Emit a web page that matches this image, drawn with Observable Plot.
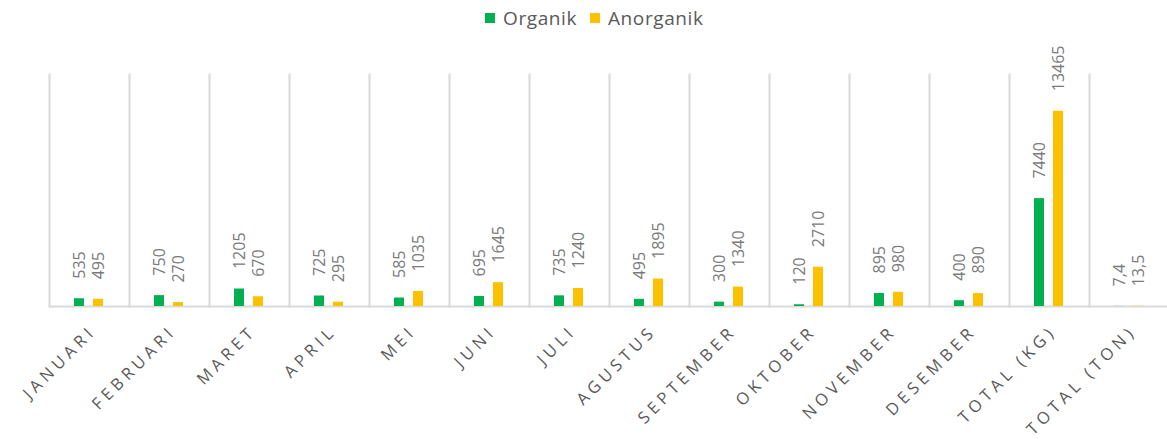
<!DOCTYPE html>
<html>
<head>
<meta charset="utf-8">
<script src="https://cdn.jsdelivr.net/npm/d3@7"></script>
<script src="https://cdn.jsdelivr.net/npm/@observablehq/plot@0.6"></script>
<style>
  html, body { margin: 0; padding: 0; background: #fff; overflow: hidden; }
  #legend { height: 36px; position: relative; font-family: "Open Sans", sans-serif; font-size: 19px; color: #595959; letter-spacing: 0.6px; }
  #legend .item { position: absolute; top: 5px; display: flex; align-items: center; }
  #legend .sw { width: 10px; height: 10px; margin-right: 8px; }
  g[aria-label="fx-axis tick label"] text { letter-spacing: 4.4px; }
  g[aria-label="datalabel"] text { letter-spacing: 2.2px; }
</style>
</head>
<body>
<div id="legend"></div>
<div id="chart"></div>
<script>
const months = ["JANUARI","FEBRUARI","MARET","APRIL","MEI","JUNI","JULI","AGUSTUS","SEPTEMBER","OKTOBER","NOVEMBER","DESEMBER","TOTAL (KG)","TOTAL (TON)"];
const seriesNames = ["Organik","Anorganik"];
const seriesColors = ["#00B050","#FFC000"];
const organik = [535,750,1205,725,585,695,735,495,300,120,895,400,7440,7.4];
const anorganik = [495,270,670,295,1035,1645,1240,1895,1340,2710,980,890,13465,13.5];

const data = [];
months.forEach((m, i) => {
  data.push({month: m, series: "Organik", value: organik[i]});
  data.push({month: m, series: "Anorganik", value: anorganik[i]});
});
const fmt = v => String(v).replace(".", ",");

// legend
const legend = document.getElementById("legend");
const legendLeft = [485, 590];
seriesNames.forEach((s, i) => {
  const it = document.createElement("div");
  it.className = "item";
  it.style.left = legendLeft[i] + "px";
  it.innerHTML = `<span class="sw" style="background:${seriesColors[i]}"></span><span>${s}</span>`;
  legend.appendChild(it);
});

const chart = Plot.plot({
  width: 1167,
  height: 403,
  marginLeft: 47,
  marginRight: -3,
  marginTop: 38,
  marginBottom: 133,
  style: {fontFamily: "'Open Sans', sans-serif", background: "#fff"},
  fx: {domain: months, padding: 0, label: null},
  x: {domain: seriesNames, paddingInner: 0.45, paddingOuter: 1.23, axis: null},
  y: {domain: [0, 16000], axis: null},
  color: {domain: seriesNames, range: seriesColors},
  marks: [
    Plot.frame({anchor: "left", stroke: "#d9d9d9", strokeWidth: 2}),
    Plot.ruleY([0], {stroke: "#d9d9d9", strokeWidth: 2}),
    Plot.barY(data, {fx: "month", x: "series", y: "value", fill: "series"}),
    Plot.text(data, {fx: "month", x: "series", y: "value", text: d => fmt(d.value),
      rotate: -90, textAnchor: "start", lineAnchor: "middle", dy: -20,
      fill: "#7a7a7a", fontSize: 16, ariaLabel: "datalabel"}),
    Plot.axisFx({anchor: "bottom", tickRotate: -45, tickSize: 0, tickPadding: 22, dx: 4,
      fontSize: 16.5, fill: "#595959", label: null})
  ]
});
document.getElementById("chart").appendChild(chart);
</script>
</body>
</html>
